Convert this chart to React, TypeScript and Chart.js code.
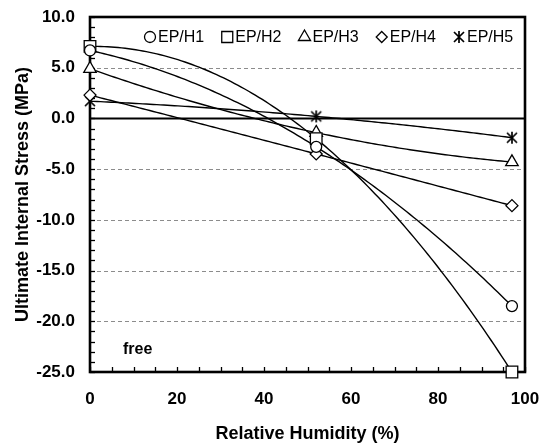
import React, { useEffect, useRef } from "react";
import { Chart, registerables } from "chart.js";

Chart.register(...registerables);

// ---- data ----
const humidity = [0, 52, 97];
const seriesLabels = ["EP/H1", "EP/H2", "EP/H3", "EP/H4", "EP/H5"];
const epH1 = [6.7, -2.8, -18.5];
const epH2 = [7.1, -2.0, -25.0];
const epH3 = [4.9, -1.4, -4.3];
const epH4 = [2.3, -3.5, -8.6];
const epH5 = [1.7, 0.2, -1.9];
const yTickValues = [-25, -20, -15, -10, -5, 0, 5, 10];
const xTickValues = [0, 20, 40, 60, 80, 100];
const annotationText = "free";
const xTitle = "Relative Humidity (%)";
const yTitle = "Ultimate Internal Stress (MPa)";

const FONT = '"Liberation Sans", Arial, sans-serif';
const seriesValues = [epH1, epH2, epH3, epH4, epH5];
const markerStyles = ["circle", "rect", "triangle", "rectRot", "asterisk"];
const markerRadius = [5.5, 8.2, 7.2, 6, 6];

function makeAsterisk(): HTMLCanvasElement {
  const s = 18;
  const c = document.createElement("canvas");
  c.width = s;
  c.height = s;
  const ctx = c.getContext("2d")!;
  ctx.strokeStyle = "#000";
  ctx.lineWidth = 1.7;
  const cx = s / 2;
  const cy = s / 2;
  ctx.beginPath();
  // vertical arm
  ctx.moveTo(cx, cy - 6);
  ctx.lineTo(cx, cy + 6);
  // diagonals
  const d = 5;
  ctx.moveTo(cx - d, cy - d);
  ctx.lineTo(cx + d, cy + d);
  ctx.moveTo(cx + d, cy - d);
  ctx.lineTo(cx - d, cy + d);
  ctx.stroke();
  return c;
}

function drawLegendMarker(ctx: CanvasRenderingContext2D, style: string, x: number, y: number, star: HTMLCanvasElement) {
  ctx.save();
  ctx.lineWidth = 1.3;
  ctx.strokeStyle = "#000";
  ctx.fillStyle = "#fff";
  ctx.beginPath();
  if (style === "circle") {
    ctx.arc(x, y, 5.5, 0, Math.PI * 2);
  } else if (style === "rect") {
    ctx.rect(x - 5.5, y - 5.5, 11, 11);
  } else if (style === "triangle") {
    const r = 7;
    ctx.moveTo(x, y - r);
    ctx.lineTo(x + r * 0.866, y + r * 0.5);
    ctx.lineTo(x - r * 0.866, y + r * 0.5);
    ctx.closePath();
  } else if (style === "rectRot") {
    ctx.moveTo(x, y - 5.5);
    ctx.lineTo(x + 5.5, y);
    ctx.lineTo(x, y + 5.5);
    ctx.lineTo(x - 5.5, y);
    ctx.closePath();
  } else {
    ctx.drawImage(star, x - star.width / 2, y - star.height / 2);
    ctx.restore();
    return;
  }
  ctx.fill();
  ctx.stroke();
  ctx.restore();
}

function quadAt(xs: number[], ys: number[], t: number) {
  const [x0, x1, x2] = xs;
  const [y0, y1, y2] = ys;
  return (
    (y0 * (t - x1) * (t - x2)) / ((x0 - x1) * (x0 - x2)) +
    (y1 * (t - x0) * (t - x2)) / ((x1 - x0) * (x1 - x2)) +
    (y2 * (t - x0) * (t - x1)) / ((x2 - x0) * (x2 - x1))
  );
}

export default function App() {
  const ref = useRef<HTMLCanvasElement | null>(null);

  useEffect(() => {
    document.body.style.margin = "0";
    const star = makeAsterisk();

    const decor = {
      id: "decor",
      beforeDatasetsDraw(chart: any) {
        const { ctx, chartArea: a, scales } = chart;
        const xs = scales.x;
        const ys = scales.y;
        ctx.save();
        // dashed grid
        ctx.lineWidth = 1;
        ctx.strokeStyle = "#8c8c8c";
        ctx.setLineDash([4, 3]);
        for (const v of yTickValues) {
          if (v === 0 || v === ys.min || v === ys.max) continue;
          const py = Math.round(ys.getPixelForValue(v)) + 0.5;
          ctx.beginPath();
          ctx.moveTo(a.left, py);
          ctx.lineTo(a.right, py);
          ctx.stroke();
        }
        ctx.setLineDash([]);
        // zero line
        ctx.strokeStyle = "#000";
        ctx.lineWidth = 2;
        const pz = ys.getPixelForValue(0);
        ctx.beginPath();
        ctx.moveTo(a.left, pz);
        ctx.lineTo(a.right, pz);
        ctx.stroke();
        // inner ticks
        ctx.lineWidth = 1.3;
        for (let v = ys.min; v <= ys.max; v += 1) {
          const py = Math.round(ys.getPixelForValue(v)) + 0.5;
          ctx.beginPath();
          ctx.moveTo(a.left, py);
          ctx.lineTo(a.left + 5, py);
          ctx.stroke();
        }
        for (let v = xs.min; v <= xs.max; v += 5) {
          const px = Math.round(xs.getPixelForValue(v)) + 0.5;
          ctx.beginPath();
          ctx.moveTo(px, a.bottom);
          ctx.lineTo(px, a.bottom - 5);
          ctx.stroke();
        }
        // fitted curves
        ctx.lineWidth = 1.4;
        ctx.strokeStyle = "#000";
        for (const vals of seriesValues) {
          ctx.beginPath();
          const x0 = humidity[0];
          const x2 = humidity[humidity.length - 1];
          const n = 120;
          for (let i = 0; i <= n; i++) {
            const t = x0 + ((x2 - x0) * i) / n;
            const px = xs.getPixelForValue(t);
            const py = ys.getPixelForValue(quadAt(humidity, vals, t));
            if (i === 0) ctx.moveTo(px, py);
            else ctx.lineTo(px, py);
          }
          ctx.stroke();
        }
        // frame
        ctx.lineWidth = 2.6;
        ctx.strokeRect(a.left, a.top, a.right - a.left, a.bottom - a.top);
        // annotation
        ctx.fillStyle = "#000";
        ctx.font = `bold 16px ${FONT}`;
        ctx.textAlign = "left";
        ctx.textBaseline = "middle";
        ctx.fillText(annotationText, a.left + 33, a.bottom - 22);
        ctx.restore();
      },
      afterDatasetsDraw(chart: any) {
        const { ctx, chartArea: a } = chart;
        ctx.save();
        ctx.font = `16px ${FONT}`;
        ctx.fillStyle = "#000";
        ctx.textAlign = "left";
        ctx.textBaseline = "middle";
        let x = a.left + 60;
        const y = a.top + 20;
        seriesLabels.forEach((lbl, i) => {
          drawLegendMarker(ctx, markerStyles[i], x, y, star);
          ctx.fillText(lbl, x + 8, y + 1);
          x += 8 + ctx.measureText(lbl).width + 23;
        });
        // axis titles
        ctx.font = `bold 18px ${FONT}`;
        ctx.textAlign = "center";
        ctx.fillText(xTitle, (a.left + a.right) / 2, 434);
        ctx.save();
        ctx.translate(23, (a.top + a.bottom) / 2);
        ctx.rotate(-Math.PI / 2);
        ctx.fillText(yTitle, 0, 0);
        ctx.restore();
        ctx.restore();
      },
    };

    const datasets = seriesLabels.map((lbl, i) => ({
      label: lbl,
      data: humidity.map((h, j) => ({ x: h, y: seriesValues[i][j] })),
      showLine: false,
      pointStyle: markerStyles[i] === "asterisk" ? star : markerStyles[i],
      pointRadius: markerRadius[i],
      pointBorderWidth: 1.3,
      pointBorderColor: "#000",
      pointBackgroundColor: "#fff",
      clip: false as any,
    }));

    const chart = new Chart(ref.current!, {
      type: "scatter",
      data: { datasets: datasets as any },
      plugins: [decor],
      options: {
        animation: false,
        responsive: false,
        events: [],
        layout: { padding: { left: 0, top: 17, right: 15, bottom: 0 } },
        plugins: { legend: { display: false }, tooltip: { enabled: false } },
        scales: {
          x: {
            type: "linear",
            min: 0,
            max: 100,
            afterBuildTicks: (s: any) => {
              s.ticks = xTickValues.map((v) => ({ value: v }));
            },
            afterFit: (s: any) => {
              s.height = 71;
              s.paddingLeft = 0;
              s.paddingRight = 0;
            },
            grid: { display: false, drawTicks: false },
            border: { display: false },
            ticks: {
              color: "#000",
              padding: 17,
              maxRotation: 0,
              font: { family: FONT, size: 17, weight: "bold" },
            },
          },
          y: {
            type: "linear",
            min: -25,
            max: 10,
            afterBuildTicks: (s: any) => {
              s.ticks = yTickValues.map((v) => ({ value: v }));
            },
            afterFit: (s: any) => {
              s.width = 90;
              s.paddingTop = 0;
              s.paddingBottom = 0;
            },
            grid: { display: false, drawTicks: false },
            border: { display: false },
            ticks: {
              color: "#000",
              padding: 15,
              font: { family: FONT, size: 17, weight: "bold" },
              callback: (v: any) => Number(v).toFixed(1),
            },
          },
        },
      },
    });
    return () => chart.destroy();
  }, []);

  return (
    <div style={{ width: 540, height: 443 }}>
      <canvas ref={ref} width={540} height={443} style={{ display: "block" }} />
    </div>
  );
}
